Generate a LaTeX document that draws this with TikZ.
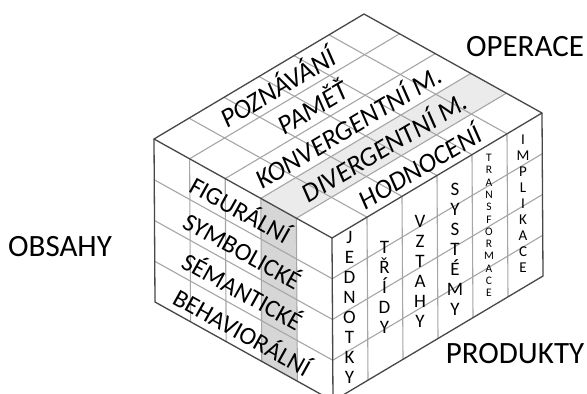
\documentclass[tikz,border=0pt]{standalone}
\usepackage{fontspec}
\setmainfont{Carlito}
\definecolor{edgegray}{HTML}{474747}
\definecolor{gridgray}{HTML}{A6A6A6}
\definecolor{topshade}{HTML}{EBEBEB}
\definecolor{sideshade}{HTML}{D6D6D6}
\tikzset{
  outeredge/.style={draw=edgegray, line width=1.3pt, line join=round},
  gridline/.style={draw=gridgray, line width=1.1pt},
  axislabel/.style={font=\fontsize{31}{31}\selectfont, inner sep=0pt},
  sidelabel/.style={font=\fontsize{25}{25}\selectfont, inner sep=0pt, rotate=-29.08},
  toplabel/.style={font=\itshape\fontsize{27}{27}\selectfont, inner sep=0pt, rotate=30.76},
  stacklabel/.style={font=\fontsize{19}{20}\selectfont, align=center, inner sep=0pt},
}
\begin{document}
\begin{tikzpicture}[x=1pt,y=-1pt]
\useasboundingbox (0,0) rectangle (587,394);

% cube corners: u runs from L to F, v from F to R, w points down
\def\ux{178}\def\uy{99}
\def\vx{210}\def\vy{-125}
\def\wx{1}\def\wy{163}
\coordinate (L) at (154,139);
\coordinate (F) at (154+\ux,139+\uy);
\coordinate (R) at (154+\ux+\vx,139+\uy+\vy);
\coordinate (T) at (154+\vx,139+\vy);
\coordinate (Lb) at (154+\wx,139+\wy);
\coordinate (Fb) at (154+\ux+\wx,139+\uy+\wy);
\coordinate (Rb) at (154+\ux+\vx+\wx,139+\uy+\vy+\wy);

% faces
\fill[white] (L) -- (T) -- (R) -- (F) -- cycle;
\fill[white] (L) -- (F) -- (Fb) -- (Lb) -- cycle;
\fill[white] (F) -- (R) -- (Rb) -- (Fb) -- cycle;

% highlighted operation: strip on top, column on the left face
\fill[topshade] (154+0.6*\ux,139+0.6*\uy) -- ++(\vx,\vy) -- ++(0.2*\ux,0.2*\uy) -- ++(-\vx,-\vy) -- cycle;
\fill[sideshade] (154+0.6*\ux,139+0.6*\uy) -- ++(0.2*\ux,0.2*\uy) -- ++(\wx,\wy) -- ++(-0.2*\ux,-0.2*\uy) -- cycle;

% grid of the top face
\foreach \i in {1,...,4}
  \draw[gridline] (154+\i*\ux/5,139+\i*\uy/5) -- ++(\vx,\vy);
\foreach \j in {1,...,5}
  \draw[gridline] (154+\j*\vx/6,139+\j*\vy/6) -- ++(\ux,\uy);
% grid of the left face
\foreach \i in {1,...,4}
  \draw[gridline] (154+\i*\ux/5,139+\i*\uy/5) -- ++(\wx,\wy);
\foreach \k in {1,...,3}
  \draw[gridline] (154+\k*\wx/4,139+\k*\wy/4) -- ++(\ux,\uy);
% grid of the right face
\foreach \j in {1,...,5}
  \draw[gridline] (154+\ux+\j*\vx/6,139+\uy+\j*\vy/6) -- ++(\wx,\wy);
\foreach \k in {1,...,3}
  \draw[gridline] (154+\ux+\k*\wx/4,139+\uy+\k*\wy/4) -- ++(\vx,\vy);

% outline
\draw[outeredge] (L) -- (T) -- (R) -- (F) -- cycle;
\draw[outeredge] (L) -- (Lb) -- (Fb) -- (Rb) -- (R);
\draw[outeredge] (F) -- (Fb);

% operations on the top face
\node[toplabel] (op1) at (154+0.1*\ux+0.5*\vx,139+0.1*\uy+0.5*\vy) {POZNÁVÁNÍ};
\node[toplabel] (op2) at (154+0.3*\ux+0.5*\vx,139+0.3*\uy+0.5*\vy) {PAMĚŤ};
\node[toplabel] (op3) at (154+0.5*\ux+0.5*\vx,139+0.5*\uy+0.5*\vy) {KONVERGENTNÍ M.};
\node[toplabel] (op4) at (154+0.7*\ux+0.5*\vx,139+0.7*\uy+0.5*\vy) {DIVERGENTNÍ M.};
\node[toplabel] (op5) at (154+0.9*\ux+0.5*\vx,139+0.9*\uy+0.5*\vy) {HODNOCENÍ};

% contents on the left face
\node[sidelabel] (ct1) at (154+0.5*\ux-2,139+0.5*\uy+0.125*\wy) {FIGURÁLNÍ};
\node[sidelabel] (ct2) at (154+0.5*\ux,139+0.5*\uy+0.375*\wy) {SYMBOLICKÉ};
\node[sidelabel] (ct3) at (154+0.5*\ux,139+0.5*\uy+0.625*\wy) {SÉMANTICKÉ};
\node[sidelabel] (ct4) at (154+0.5*\ux,139+0.5*\uy+0.875*\wy) {BEHAVIORÁLNÍ};

% products on the right face
\node[stacklabel] (pr1) at (349.5,307.5) {J\\E\\D\\N\\O\\T\\K\\Y};
\node[stacklabel] (pr2) at (384.5,287.5) {T\\Ř\\Í\\D\\Y};
\node[stacklabel] (pr3) at (420,271) {V\\Z\\T\\A\\H\\Y};
\node[stacklabel] (pr4) at (455,249) {S\\Y\\S\\T\\É\\M\\Y};
\node[stacklabel, font=\fontsize{11.5}{12.3}\selectfont] (pr5) at (489,225.5) {T\\R\\A\\N\\S\\F\\O\\R\\M\\A\\C\\E};
\node[stacklabel, font=\fontsize{15}{16}\selectfont] (pr6) at (523,204) {I\\M\\P\\L\\I\\K\\A\\C\\E};

% axis names
\node[axislabel] (operace) at (525,47) {OPERACE};
\node[axislabel] (obsahy) at (60,247) {OBSAHY};
\node[axislabel] (produkty) at (515,354) {PRODUKTY};
\end{tikzpicture}
\end{document}
